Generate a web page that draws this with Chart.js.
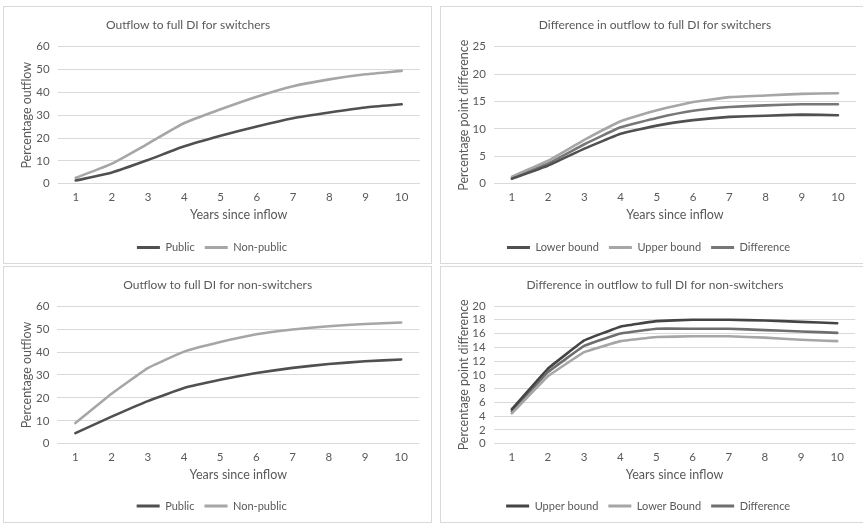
<!DOCTYPE html>
<html>
<head>
<meta charset="utf-8">
<script src="https://cdn.jsdelivr.net/npm/chart.js@4/dist/chart.umd.min.js"></script>
<style>
  html, body { margin: 0; padding: 0; background: #fff; overflow: hidden; width: 863px; height: 524px; }
  .panel { position: absolute; border: 1px solid #d9d9d9; box-sizing: border-box; background: #fff; }
  .panel canvas { position: absolute; left: 0; top: 0; }
</style>
</head>
<body>
<div class="panel" style="left:3px;top:6px;width:429px;height:258px"><canvas id="c1" width="427" height="256"></canvas></div>
<div class="panel" style="left:440px;top:6px;width:430px;height:258px"><canvas id="c2" width="428" height="256"></canvas></div>
<div class="panel" style="left:3px;top:266px;width:429px;height:257px"><canvas id="c3" width="427" height="255"></canvas></div>
<div class="panel" style="left:440px;top:266px;width:430px;height:257px"><canvas id="c4" width="428" height="255"></canvas></div>
<script>
// years since inflow
const years = ['1', '2', '3', '4', '5', '6', '7', '8', '9', '10'];

// switchers
const swPublic    = [1.4, 4.9, 10.4, 16.4, 21.0, 25.1, 28.7, 31.2, 33.4, 34.8];
const swNonPublic = [2.6, 8.8, 17.6, 26.6, 32.6, 38.1, 42.7, 45.7, 47.9, 49.4];
const swLower = [0.9, 3.3, 6.4, 9.1, 10.6, 11.6, 12.2, 12.4, 12.6, 12.5];
const swUpper = [1.3, 4.2, 8.0, 11.4, 13.4, 14.9, 15.8, 16.1, 16.4, 16.5];
const swDiff  = [1.1, 3.7, 7.2, 10.3, 12.0, 13.3, 14.0, 14.3, 14.5, 14.5];

// non-switchers
const nsPublic    = [4.6, 11.8, 18.6, 24.3, 27.9, 30.9, 33.1, 34.8, 36.0, 36.8];
const nsNonPublic = [9.0, 21.8, 33.0, 40.2, 44.4, 47.8, 49.9, 51.3, 52.3, 52.9];
const nsUpper = [5.0, 10.9, 15.0, 17.0, 17.8, 18.0, 18.0, 17.9, 17.7, 17.5];
const nsLower = [4.4, 9.8, 13.3, 14.9, 15.5, 15.6, 15.6, 15.4, 15.1, 14.9];
const nsDiff  = [4.7, 10.4, 14.2, 16.0, 16.7, 16.7, 16.7, 16.5, 16.3, 16.1];

const FONT = 'Lato, "Open Sans", sans-serif';
const TEXT = '#595959';
const DARK = '#505050', MID = '#777777', LIGHT = '#a6a6a6';

function line(label, data, color, tension) {
  return {
    label, data,
    borderColor: color, backgroundColor: color,
    borderWidth: 2.6, pointRadius: 0, tension: tension || 0,
    borderCapStyle: 'round', borderJoinStyle: 'round'
  };
}

// panel title drawn at a fixed spot, like the original
const panelTitle = {
  id: 'panelTitle',
  afterDraw(chart, args, opts) {
    const ctx = chart.ctx;
    ctx.save();
    ctx.font = '12px ' + FONT;
    ctx.fillStyle = TEXT;
    ctx.textAlign = 'center';
    ctx.textBaseline = 'middle';
    ctx.fillText(opts.text, opts.x, opts.y);
    ctx.restore();
  }
};

function makeChart(id, p) {
  const ctx = document.getElementById(id).getContext('2d');
  return new Chart(ctx, {
    type: 'line',
    data: { labels: years, datasets: p.datasets },
    plugins: [panelTitle],
    options: {
      responsive: false,
      animation: false,
      layout: { padding: { left: 0, top: p.padTop, right: p.padRight, bottom: p.padBottom } },
      plugins: {
        panelTitle: { text: p.title, x: p.titleX, y: p.titleY },
        title: { display: false },
        tooltip: { enabled: false },
        legend: {
          position: 'bottom',
          labels: {
            boxWidth: 23, boxHeight: 3, padding: 10,
            color: TEXT, font: { family: FONT, size: 11 },
            generateLabels: (chart) =>
              Chart.defaults.plugins.legend.labels.generateLabels(chart).map(l => ({ ...l, lineWidth: 0 }))
          }
        }
      },
      scales: {
        x: {
          offset: true,
          grid: { display: false, drawTicks: false },
          border: { display: false },
          ticks: { color: TEXT, font: { family: FONT, size: 11.5 }, padding: 7.1, maxRotation: 0 },
          title: { display: true, text: 'Years since inflow', color: TEXT,
                   font: { family: FONT, size: 12.5 }, padding: { top: 0, bottom: p.xTitlePad } },
          afterFit(scale) { scale.height = p.xHeight; }
        },
        y: {
          min: p.yMin, max: p.yMax,
          grid: { color: '#d9d9d9', lineWidth: 1, drawTicks: false },
          border: { display: false },
          ticks: { stepSize: p.yStep, autoSkip: false, color: TEXT, font: { family: FONT, size: 11.5 }, padding: 8 },
          title: { display: true, text: p.yTitle, color: TEXT,
                   font: { family: FONT, size: 12.5 }, padding: { top: 15.2, bottom: 0 } },
          afterFit(scale) { scale.width = p.yWidth; }
        }
      }
    }
  });
}

makeChart('c1', {
  title: 'Outflow to full DI for switchers', titleX: 184, titleY: 18,
  yTitle: 'Percentage outflow', yMin: 0, yMax: 60, yStep: 10,
  yWidth: 53.6, padTop: 39.7, padRight: 11.2, padBottom: 0, xHeight: 48.3, xTitlePad: 9.5,
  datasets: [line('Public', swPublic, DARK, 0.2), line('Non-public', swNonPublic, LIGHT, 0.2)]
});

makeChart('c2', {
  title: 'Difference in outflow to full DI for switchers', titleX: 214, titleY: 18,
  yTitle: 'Percentage point difference', yMin: 0, yMax: 25, yStep: 5,
  yWidth: 52.8, padTop: 39.7, padRight: 12.9, padBottom: 0, xHeight: 48.3, xTitlePad: 9.5,
  datasets: [line('Lower bound', swLower, DARK, 0.1), line('Upper bound', swUpper, LIGHT, 0.1),
             line('Difference', swDiff, MID, 0.1)]
});

makeChart('c3', {
  title: 'Outflow to full DI for non-switchers', titleX: 213.7, titleY: 18.3,
  yTitle: 'Percentage outflow', yMin: 0, yMax: 60, yStep: 10,
  yWidth: 53.3, padTop: 39.3, padRight: 11.7, padBottom: 0.5, xHeight: 46.8, xTitlePad: 8.3,
  datasets: [line('Public', nsPublic, DARK, 0.1), line('Non-public', nsNonPublic, LIGHT, 0.1)]
});

makeChart('c4', {
  title: 'Difference in outflow to full DI for non-switchers', titleX: 214, titleY: 18,
  yTitle: 'Percentage point difference', yMin: 0, yMax: 20, yStep: 2,
  yWidth: 52.7, padTop: 39, padRight: 13.7, padBottom: 0.5, xHeight: 46.8, xTitlePad: 8.3,
  datasets: [line('Upper bound', nsUpper, '#444444', 0.05), line('Lower Bound', nsLower, LIGHT, 0.05),
             line('Difference', nsDiff, '#6e6e6e', 0.05)]
});
</script>
</body>
</html>
